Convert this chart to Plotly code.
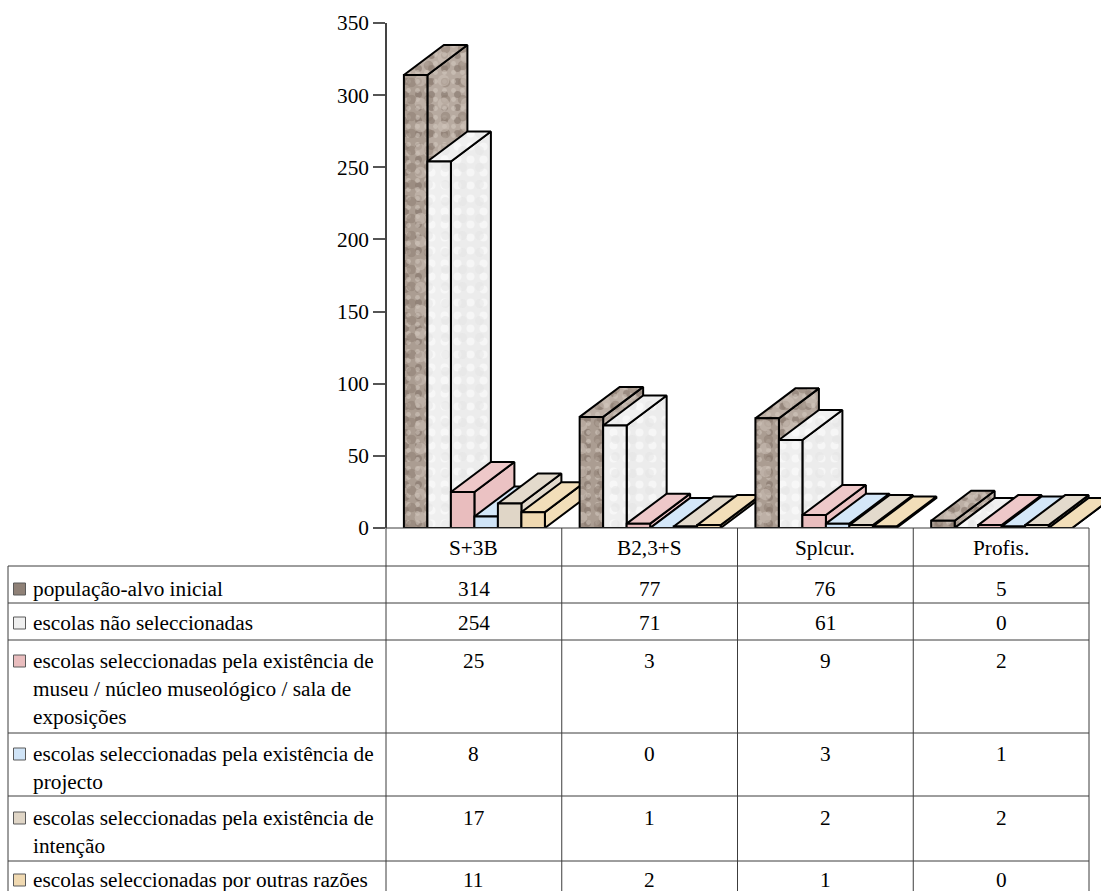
import plotly.graph_objects as go

categories = ["S+3B", "B2,3+S", "Splcur.", "Profis."]
series_names = [
    "população-alvo inicial",
    "escolas não seleccionadas",
    "escolas seleccionadas pela existência de museu / núcleo museológico / sala de exposições",
    "escolas seleccionadas pela existência de projecto",
    "escolas seleccionadas pela existência de intenção",
    "escolas seleccionadas por outras razões",
]
populacao = [314, 77, 76, 5]
nao_selec = [254, 71, 61, 0]
museu = [25, 3, 9, 2]
projecto = [8, 0, 3, 1]
intencao = [17, 1, 2, 2]
outras = [11, 2, 1, 0]
series_values = [populacao, nao_selec, museu, projecto, intencao, outras]
tick_values = [0, 50, 100, 150, 200, 250, 300, 350]

label_lines = [
    ["população-alvo inicial"],
    ["escolas não seleccionadas"],
    ["escolas seleccionadas pela existência de", "museu / núcleo museológico / sala de", "exposições"],
    ["escolas seleccionadas pela existência de", "projecto"],
    ["escolas seleccionadas pela existência de", "intenção"],
    ["escolas seleccionadas por outras razões"],
]

front_bg = ["#ab9d92", "#efefef", "#e9bdbe", "#d0e4f7", "#e0d6c7", "#f0d9b1"]
side_bg = ["#b7aaa0", "#ececec", "#ebc2c3", "#d4e7f8", "#e3dacc", "#f2deb9"]
top_bg = ["#bcafa5", "#f0f0f0", "#eec8c9", "#d4e7f8", "#e3dacc", "#f2deb9"]
# overlay dot layers (fg colour, size, solidity) per series, to suggest stone textures
texture_layers = [
    [("#7a6a60", 13, 0.22), ("#d8cec4", 9, 0.22), ("#8d7d71", 17, 0.25), ("#cfc4b9", 23, 0.2)],
    [("#ffffff", 13, 0.3), ("#e4e4e4", 17, 0.22)],
    [], [], [], [],
]
swatch = ["#8f8177", "#efefef", "#e9bdbe", "#d0e4f7", "#e0d6c7", "#f0d9b1"]

W, H = 1101, 891
AX_L, AX_R, Y0, Y350 = 386, 1089, 528, 23
CELL = (AX_R - AX_L) / 4
PX_Y = (Y0 - Y350) / 350
BAR_W = 23.5 / CELL
GAP = 17.9 / CELL
DX = 40 / CELL
DY = 30 / PX_Y
FONT = "Liberation Serif"
SIZE = 21.3


def px(x):
    return x / W


def py(y):
    return 1 - y / H


fig = go.Figure()


def face(xs, ys, bg, s):
    cx, cy = xs + xs[:1], ys + ys[:1]
    name = series_names[s]
    fig.add_trace(go.Scatter(x=cx, y=cy, mode="lines", fill="toself", name=name, fillcolor=bg,
                             line=dict(width=0), showlegend=False, hoverinfo="skip"))
    for fg, size, sol in texture_layers[s]:
        fig.add_trace(go.Scatter(x=cx, y=cy, mode="lines", fill="toself", name=name,
                                 line=dict(width=0), showlegend=False, hoverinfo="skip",
                                 fillcolor="rgba(0,0,0,0)",
                                 fillpattern=dict(shape=".", bgcolor="rgba(0,0,0,0)", fgcolor=fg,
                                                  size=size, solidity=sol)))
    fig.add_trace(go.Scatter(x=cx, y=cy, mode="lines", name=name, showlegend=False, hoverinfo="skip",
                             line=dict(color="#000000", width=2)))


for g in range(len(categories)):
    for s, vals in enumerate(series_values):
        v = vals[g]
        x0 = g + GAP + s * BAR_W
        x1 = x0 + BAR_W
        face([x1, x1 + DX, x1 + DX, x1], [0, DY, v + DY, v], side_bg[s], s)
        face([x0, x1, x1 + DX, x0 + DX], [v, v, v + DY, v + DY], top_bg[s], s)
        face([x0, x1, x1, x0], [0, 0, v, v], front_bg[s], s)

shapes = []
annotations = []


def hline(y, x0, x1):
    shapes.append(dict(type="line", xref="paper", yref="paper", x0=px(x0), x1=px(x1), y0=py(y), y1=py(y),
                       line=dict(color="#3c3c3c", width=1)))


def vline(x, y0, y1):
    shapes.append(dict(type="line", xref="paper", yref="paper", x0=px(x), x1=px(x), y0=py(y0), y1=py(y1),
                       line=dict(color="#3c3c3c", width=1)))


def text(x, y, s, anchor="center"):
    annotations.append(dict(xref="paper", yref="paper", x=px(x), y=py(y), text=s, showarrow=False,
                            xanchor=anchor, yanchor="middle", align=anchor,
                            font=dict(family=FONT, size=SIZE, color="#000000"), borderpad=0))


hline(Y0, AX_L, AX_R)
for y in [566, 603, 640, 733, 796, 861]:
    hline(y, 8, AX_R)
for i in range(5):
    vline(AX_L + i * CELL, Y0, H)
vline(8, 566, H)

for i, c in enumerate(categories):
    text(AX_L + (i + 0.5) * CELL, 548, c)

row_first_y = [589, 623, 661, 754, 818, 880]
LINE = 28
for r, lines in enumerate(label_lines):
    yc = row_first_y[r]
    shapes.append(dict(type="rect", xref="paper", yref="paper", x0=px(13.5), x1=px(25.5),
                       y0=py(yc + 6), y1=py(yc - 6), fillcolor=swatch[r],
                       line=dict(color="#5a5a5a", width=1)))
    for k, line in enumerate(lines):
        text(32, yc + k * LINE, line, "left")
    for i in range(len(categories)):
        text(AX_L + (i + 0.5) * CELL, yc, str(series_values[r][i]))

fig.update_layout(
    width=W, height=H, autosize=False,
    margin=dict(l=0, r=0, t=0, b=0, autoexpand=False),
    paper_bgcolor="white", plot_bgcolor="white",
    font=dict(family=FONT, size=SIZE, color="#000000"),
    shapes=shapes, annotations=annotations, showlegend=False,
    xaxis=dict(domain=[px(AX_L), 1], range=[0, (W - AX_L) / CELL], visible=False, fixedrange=True),
    yaxis=dict(domain=[py(Y0), py(Y350)], range=[0, 350], tickvals=tick_values,
               ticks="outside", ticklen=12, tickcolor="#555555", tickwidth=1.5,
               showline=True, linecolor="#444444", linewidth=1.5, showgrid=False, zeroline=False,
               anchor="free", position=px(AX_L), tickfont=dict(family=FONT, size=SIZE), fixedrange=True),
)

fig.write_html("out.html", config={"displayModeBar": False},
               post_script="document.body.style.margin='0';document.documentElement.style.overflow='hidden';")
